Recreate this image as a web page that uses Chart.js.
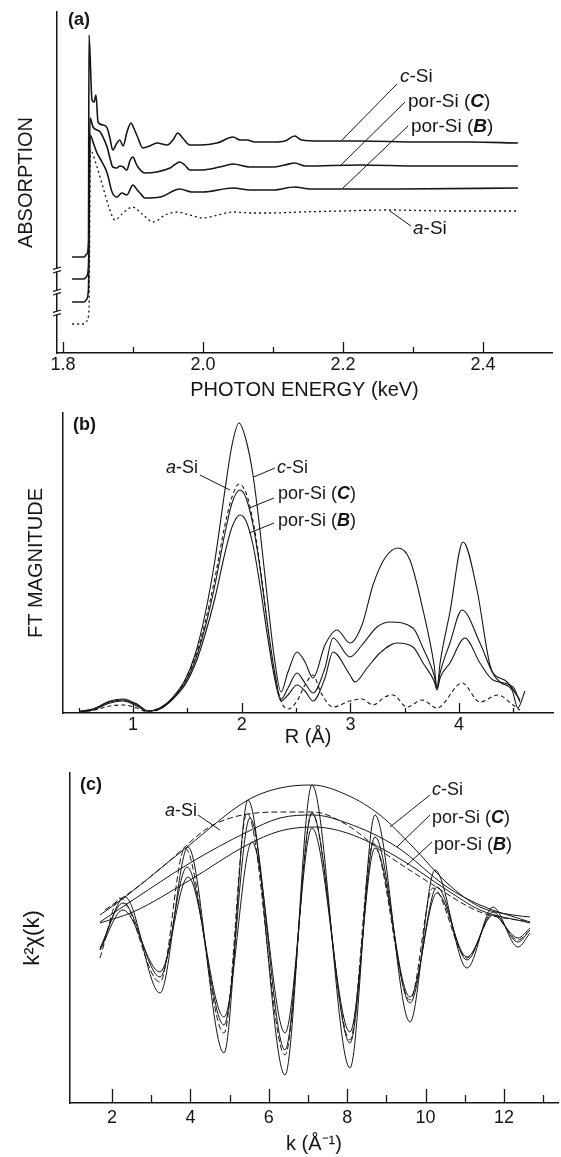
<!DOCTYPE html>
<html>
<head>
<meta charset="utf-8">
<script src="https://cdn.jsdelivr.net/npm/chart.js@4/dist/chart.umd.min.js"></script>
<style>
  body { margin: 0; background: #fff; width: 561px; height: 1157px; position: relative; overflow: hidden; }
  .panel { position: absolute; left: 0; }
</style>
</head>
<body>
<div class="panel" style="top:0"><canvas id="chartA" width="561" height="405"></canvas></div>
<div class="panel" style="top:405px"><canvas id="chartB" width="561" height="345"></canvas></div>
<div class="panel" style="top:750px"><canvas id="chartC" width="561" height="407"></canvas></div>
<script>
const FONT = "'Liberation Sans', Arial, sans-serif";
const INK = '#161616';

// (a) Si K-edge absorption, photon energy in keV, absorption in arbitrary units (curves offset)
const energyCSi = [1.813,1.830,1.834,1.8364,1.8371,1.8414,1.8443,1.8471,1.850,1.857,1.863,1.867,1.871,1.877,1.881,1.886,1.891,1.897,1.901,1.906,1.914,1.924,1.934,1.949,1.957,1.964,1.971,1.981,1.996,2.020,2.043,2.053,2.063,2.074,2.100,2.117,2.131,2.141,2.167,2.224,2.310,2.381,2.450];
const absCSi = [96,96,99,113,318,253,251,258,231,228,225,215,203,210,213,207,220,230,225,217,205,207,210,208,213,220,215,208,208,210,216,213,213,211,211,212,217,213,212,212,211,211,210];
const energyPorC = [1.813,1.830,1.834,1.8364,1.8386,1.8429,1.8486,1.853,1.859,1.863,1.867,1.871,1.877,1.881,1.886,1.891,1.896,1.900,1.904,1.907,1.917,1.934,1.953,1.967,1.974,1.981,1.996,2.024,2.043,2.067,2.100,2.117,2.131,2.146,2.224,2.310,2.450];
const absPorC = [74,74,77,88,235,226,223,221,213,206,195,186,185,187,186,183,193,196,190,186,180,181,185,191,188,183,183,186,189,186,186,188,190,187,188,187,187];
const energyPorB = [1.813,1.830,1.834,1.8364,1.8386,1.8443,1.8486,1.8557,1.863,1.870,1.877,1.884,1.891,1.900,1.906,1.910,1.917,1.939,1.967,1.984,2.000,2.043,2.067,2.100,2.131,2.153,2.281,2.450];
const absPorB = [51,51,54,65,218,208,200,191,180,161,156,160,158,168,163,160,155,156,164,161,161,165,163,163,166,164,164,165];
const energyASi = [1.813,1.830,1.834,1.8371,1.8393,1.8414,1.8486,1.857,1.866,1.874,1.886,1.899,1.913,1.929,1.946,1.963,1.981,2.000,2.021,2.043,2.067,2.100,2.139,2.196,2.267,2.353,2.450];
const absASi = [29,29,32,43,203,201,186,166,145,133,140,146,139,131,138,141,138,135,138,141,140,140,141,142,143,142,142];
const energyTicks = [1.8, 2.0, 2.2, 2.4];
const energyMinor = [1.9, 2.1, 2.3];
const absBreaks = [83, 61, 40];

// (b) Fourier transform magnitude vs R (Å)
const rCSi = [0.512,0.632,0.788,0.908,1.037,1.138,1.248,1.368,1.478,1.570,1.662,1.754,1.846,1.911,1.975,2.040,2.104,2.168,2.233,2.297,2.362,2.426,2.509,2.582,2.656,2.766,2.877,2.996,3.107,3.208,3.318,3.438,3.548,3.668,3.77,3.797,3.825,3.916,4.036,4.165,4.284,4.376,4.487,4.54,4.606];
const ftCSi = [2,4,12,14,9,2,5,16,33,58,98,153,223,268,290,273,238,183,118,58,21,41,61,51,35,68,83,70,88,128,155,165,153,103,48,25,50,101,171,123,48,31,23,5,22];
const rPorC = [0.512,0.632,0.788,0.908,1.037,1.138,1.248,1.368,1.478,1.570,1.662,1.754,1.846,1.911,1.984,2.040,2.104,2.168,2.233,2.297,2.362,2.426,2.509,2.582,2.656,2.766,2.840,2.996,3.107,3.245,3.364,3.576,3.668,3.77,3.797,3.825,3.916,4.027,4.192,4.312,4.441,4.560];
const ftPorC = [1,4,11,13,8,2,5,15,30,52,85,128,180,210,223,215,188,145,92,45,14,25,40,30,20,45,75,56,68,86,91,85,65,38,25,40,70,103,70,40,31,13];
const rPorB = [0.512,0.632,0.788,0.908,1.037,1.138,1.248,1.368,1.478,1.570,1.662,1.754,1.846,1.911,1.984,2.040,2.104,2.168,2.233,2.297,2.362,2.426,2.509,2.582,2.656,2.766,2.840,2.996,3.042,3.153,3.272,3.429,3.576,3.668,3.77,3.797,3.825,3.916,4.054,4.192,4.312,4.496,4.560];
const ftPorB = [1,3,10,12,7,2,4,14,28,48,78,115,160,186,198,192,168,128,80,38,12,18,28,22,12,35,61,38,31,45,60,70,66,50,32,23,35,50,75,50,33,26,11];
const rASi = [0.512,0.65,0.788,0.908,1.037,1.138,1.248,1.368,1.478,1.570,1.662,1.754,1.846,1.911,1.975,2.040,2.104,2.168,2.233,2.297,2.362,2.426,2.509,2.582,2.656,2.730,2.840,2.996,3.107,3.208,3.318,3.392,3.521,3.659,3.797,4.027,4.192,4.358,4.496,4.560];
const ftASi = [1,3,7,8,5,1,4,15,32,55,90,135,188,216,229,220,192,148,92,42,12,4,12,28,38,20,6,12,14,8,16,18,6,13,5,30,11,18,8,3];
const rTicks = [1, 2, 3, 4];
const rMinor = [0.5, 1.5, 2.5, 3.5, 4.5];

// (c) k^2 chi(k) oscillations and their envelopes
const kCSi = [1.694,2.332,3.224,3.939,4.857,5.469,6.413,7.102,8.071,8.709,9.602,10.240,11.056,11.719,12.357,12.663];
const chiCSi = [153,206,110,256,50,303,28,318,35,288,81,233,135,196,156,170];
const kPorC = [1.694,2.281,3.224,3.913,4.857,5.520,6.413,7.102,8.071,8.709,9.602,10.291,11.056,11.719,12.357,12.663];
const chiPorC = [155,200,126,236,78,285,53,290,60,266,100,216,143,191,161,173];
const kPorB = [1.694,2.281,3.224,3.939,4.857,5.571,6.413,7.102,8.071,8.709,9.602,10.291,11.056,11.719,12.357,12.663];
const chiPorB = [153,193,131,226,86,261,70,275,71,255,106,210,146,188,165,175];
const kASi = [1.694,2.204,3.224,3.862,4.857,5.444,6.413,7.102,8.071,8.658,9.602,10.189,11.056,11.719,12.357,12.663];
const chiASi = [145,205,121,255,70,290,48,290,63,260,103,215,145,188,163,173];
const kEnvCSi = [1.694,2.332,3.913,5.469,6.286,7.102,7.995,8.837,9.679,10.546,11.388,12.230,12.663];
const envCSi = [188,206,256,303,315,318,308,288,256,220,196,188,186];
const kEnvPor = [1.694,2.536,3.990,5.444,6.286,7.128,7.995,9.270,10.546,11.388,12.663];
const envPorC = [181,203,240,271,285,288,280,256,216,198,181];
const envPorB = [180,191,223,258,272,276,270,246,213,193,180];
const kEnvASi = [1.821,2.714,3.403,4.577,6.286,7.128,7.995,8.837,10.112,11.388,12.663];
const envASi = [193,218,240,278,291,291,278,253,220,191,181];
const kTicks = [2, 4, 6, 8, 10, 12];
const kMinor = [3, 5, 7, 9, 11, 13];

const cSiName = [['c', 'italic'], ['-Si']];
const aSiName = [['a', 'italic'], ['-Si']];
const porCName = [['por-Si ('], ['C', 'italic bold'], [')']];
const porBName = [['por-Si ('], ['B', 'italic bold'], [')']];

function pts(xs, ys) {
  return xs.map((x, i) => ({ x: x, y: ys[i] }));
}

function line(xs, ys, width, dash) {
  return {
    data: pts(xs, ys),
    borderColor: INK,
    borderWidth: width,
    borderDash: dash || [],
    pointRadius: 0,
    fill: false,
    cubicInterpolationMode: 'monotone'
  };
}

// ticks pointing into the plot, axis breaks, curve labels with leader lines, panel letter
const decor = {
  id: 'decor',
  afterDraw(chart, args, o) {
    const { ctx, chartArea: area } = chart;
    const x = chart.scales.x, y = chart.scales.y;
    ctx.save();
    ctx.strokeStyle = INK;
    ctx.fillStyle = INK;
    ctx.lineWidth = 1.3;
    const tick = (v, len) => {
      const px = Math.round(x.getPixelForValue(v)) + 0.5;
      ctx.beginPath();
      ctx.moveTo(px, area.bottom);
      ctx.lineTo(px, area.bottom - len);
      ctx.stroke();
    };
    o.major.forEach(v => tick(v, o.majorLen));
    o.minor.forEach(v => tick(v, o.minorLen));

    (o.breaks || []).forEach(v => {
      const py = y.getPixelForValue(v), px = area.left;
      ctx.fillStyle = '#fff';
      ctx.fillRect(px - 3, py - 1.5, 6, 3);
      ctx.lineWidth = 1.1;
      [-1.8, 1.8].forEach(d => {
        ctx.beginPath();
        ctx.moveTo(px - 4, py + d + 1.2);
        ctx.lineTo(px + 4, py + d - 1.2);
        ctx.stroke();
      });
    });

    ctx.fillStyle = INK;
    ctx.lineWidth = 1;
    ctx.textBaseline = 'middle';
    o.labels.forEach(l => {
      if (l.from) {
        ctx.beginPath();
        ctx.moveTo(x.getPixelForValue(l.from[0]), y.getPixelForValue(l.from[1]));
        ctx.lineTo(x.getPixelForValue(l.to[0]), y.getPixelForValue(l.to[1]));
        ctx.stroke();
      }
      let tx = x.getPixelForValue(l.at[0]);
      const ty = y.getPixelForValue(l.at[1]);
      const parts = l.parts.map(p => ({ t: p[0], f: ((p[1] || '') + ' ' + o.size + 'px ' + FONT).trim() }));
      let w = 0;
      parts.forEach(p => { ctx.font = p.f; p.w = ctx.measureText(p.t).width; w += p.w; });
      if (l.align === 'right') tx -= w;
      parts.forEach(p => { ctx.font = p.f; ctx.fillText(p.t, tx, ty); tx += p.w; });
    });

    ctx.font = 'bold 18px ' + FONT;
    ctx.fillText(o.panel, area.left + o.panelAt[0], area.top + o.panelAt[1]);
    ctx.restore();
  }
};

function axes(o) {
  return {
    x: {
      type: 'linear', min: o.xMin, max: o.xMax,
      grid: { display: false, drawTicks: false },
      border: { color: INK, width: 1.5 },
      ticks: { font: { family: FONT, size: 18 }, color: INK, padding: o.tickPad, maxRotation: 0, callback: o.fmt },
      afterBuildTicks: s => { s.ticks = o.majors.map(v => ({ value: v })); },
      afterFit: s => { s.height = o.xHeight; },
      title: { display: true, text: o.xTitle, font: { family: FONT, size: 20 }, color: INK, padding: { top: 0, bottom: o.xTitlePad } }
    },
    y: {
      type: 'linear', min: o.yMin, max: o.yMax,
      grid: { display: false, drawTicks: false },
      border: { color: INK, width: 1.5 },
      ticks: { display: false },
      afterFit: s => { s.width = o.yWidth; },
      title: { display: true, text: o.yTitle, font: { family: FONT, size: o.yTitleSize || 20 }, color: INK, padding: { top: o.yTitlePad, bottom: 0 } }
    }
  };
}

function makeChart(id, datasets, scaleOpts, pad, decorOpts) {
  return new Chart(document.getElementById(id), {
    type: 'line',
    data: { datasets: datasets },
    options: {
      responsive: false,
      animation: false,
      layout: { padding: { top: pad.top, right: pad.right, left: 0, bottom: 0 } },
      plugins: { legend: { display: false }, tooltip: { enabled: false }, decor: decorOpts },
      scales: axes(scaleOpts)
    },
    plugins: [decor]
  });
}

makeChart('chartA', [
  line(energyCSi, absCSi, 1.6),
  line(energyPorC, absPorC, 1.6),
  line(energyPorB, absPorB, 1.6),
  line(energyASi, absASi, 1.3, [2, 3])
], {
  xMin: 1.7914, xMax: 2.4986, yMin: 0, yMax: 341,
  majors: energyTicks, fmt: v => v.toFixed(1), tickPad: 1,
  xHeight: 52, yWidth: 57, xTitle: 'PHOTON ENERGY (keV)', xTitlePad: 2.6,
  yTitle: 'ABSORPTION', yTitlePad: 14.6
}, { top: 12, right: 9 }, {
  major: energyTicks, minor: energyMinor, majorLen: 11, minorLen: 6,
  breaks: absBreaks, size: 19, panel: '(a)', panelAt: [11, 8],
  labels: [
    { parts: cSiName, at: [2.2814, 276], from: [2.1986, 213], to: [2.2771, 269] },
    { parts: porCName, at: [2.2929, 251], from: [2.1957, 187], to: [2.2886, 251] },
    { parts: porBName, at: [2.2971, 226], from: [2.2, 165], to: [2.2929, 227] },
    { parts: aSiName, at: [2.3, 124], from: [2.2671, 142], to: [2.2971, 127] }
  ]
});

makeChart('chartB', [
  line(rCSi, ftCSi, 1.1),
  line(rPorC, ftPorC, 1.1),
  line(rPorB, ftPorB, 1.1),
  line(rASi, ftASi, 1.1, [4, 3])
], {
  xMin: 0.356, xMax: 4.864, yMin: 0, yMax: 300,
  majors: rTicks, fmt: v => String(v), tickPad: 1,
  xHeight: 37, yWidth: 63, xTitle: 'R (Å)', xTitlePad: 0.6,
  yTitle: 'FT MAGNITUDE', yTitlePad: 24.6
}, { top: 8, right: 8 }, {
  major: rTicks, minor: rMinor, majorLen: 10, minorLen: 5,
  size: 18, panel: '(b)', panelAt: [10, 12],
  labels: [
    { parts: aSiName, at: [1.598, 245], align: 'right', from: [1.616, 238], to: [1.892, 223] },
    { parts: cSiName, at: [2.325, 245], from: [2.11, 236], to: [2.306, 245] },
    { parts: porCName, at: [2.334, 219], from: [2.07, 205], to: [2.297, 215] },
    { parts: porBName, at: [2.334, 192], from: [2.07, 180], to: [2.297, 190] }
  ]
});

makeChart('chartC', [
  line(kCSi, chiCSi, 1),
  line(kPorC, chiPorC, 1),
  line(kPorB, chiPorB, 1),
  line(kASi, chiASi, 1, [6, 3]),
  line(kEnvCSi, envCSi, 1),
  line(kEnvPor, envPorC, 1),
  line(kEnvPor, envPorB, 1),
  line(kEnvASi, envASi, 1, [6, 3])
], {
  xMin: 0.929, xMax: 13.378, yMin: 0, yMax: 330,
  majors: kTicks, fmt: v => String(v), tickPad: 4,
  xHeight: 54, yWidth: 70, xTitle: 'k (Å⁻¹)', xTitlePad: 0.6,
  yTitle: 'k²χ(k)', yTitleSize: 22, yTitlePad: 19.4
}, { top: 23, right: 3 }, {
  major: kTicks, minor: kMinor, majorLen: 14, minorLen: 8,
  size: 18, panel: '(c)', panelAt: [10, 12],
  labels: [
    { parts: aSiName, at: [4.168, 292], align: 'right', from: [4.194, 288], to: [4.755, 273] },
    { parts: cSiName, at: [10.163, 313], from: [9.092, 276], to: [10.112, 308] },
    { parts: porCName, at: [10.163, 285], from: [9.270, 256], to: [10.112, 288] },
    { parts: porBName, at: [10.214, 258], from: [9.526, 238], to: [10.163, 261] }
  ]
});
</script>
</body>
</html>
